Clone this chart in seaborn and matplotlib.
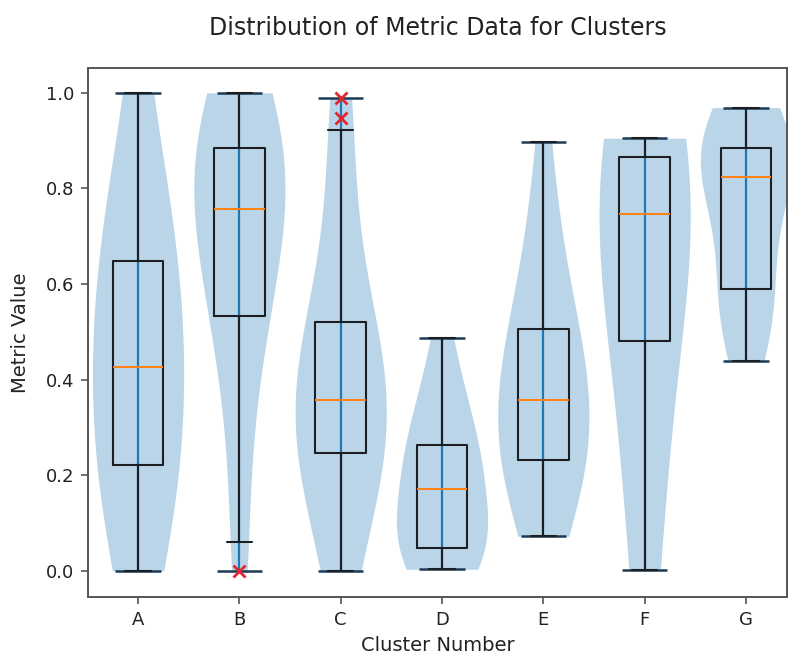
import numpy as np
import pandas as pd
import matplotlib
matplotlib.use("Agg")
import matplotlib.pyplot as plt
import seaborn as sns

# Cluster labels and per-cluster metric samples
clusters = ["A", "B", "C", "D", "E", "F", "G"]

cluster_a = [0.000, 0.037, 0.074, 0.110, 0.147, 0.184, 0.221, 0.255, 0.290,
             0.324, 0.358, 0.392, 0.427, 0.464, 0.501, 0.538, 0.575, 0.612,
             0.649, 0.680, 0.715, 0.755, 0.800, 0.880, 1.000]
cluster_b = [0.000, 0.060, 0.220, 0.380, 0.460, 0.500, 0.532, 0.580, 0.620,
             0.660, 0.700, 0.730, 0.757, 0.780, 0.800, 0.820, 0.840, 0.860,
             0.885, 0.900, 0.920, 0.940, 0.960, 0.980, 1.000]
cluster_c = [0.000, 0.040, 0.090, 0.140, 0.180, 0.220, 0.247, 0.270, 0.290,
             0.310, 0.325, 0.340, 0.358, 0.380, 0.400, 0.430, 0.460, 0.490,
             0.520, 0.570, 0.640, 0.750, 0.922, 0.948, 0.990]
cluster_d = [0.003, 0.010, 0.018, 0.026, 0.033, 0.040, 0.047, 0.060, 0.075,
             0.090, 0.110, 0.140, 0.170, 0.190, 0.210, 0.225, 0.240, 0.250,
             0.264, 0.290, 0.320, 0.350, 0.390, 0.440, 0.487]
cluster_e = [0.072, 0.100, 0.130, 0.160, 0.185, 0.210, 0.231, 0.250, 0.270,
             0.290, 0.310, 0.335, 0.358, 0.380, 0.400, 0.420, 0.450, 0.480,
             0.506, 0.540, 0.580, 0.630, 0.700, 0.790, 0.898]
cluster_f = [0.002, 0.020, 0.060, 0.140, 0.240, 0.360, 0.480, 0.530, 0.580,
             0.630, 0.670, 0.710, 0.746, 0.770, 0.790, 0.810, 0.830, 0.845,
             0.866, 0.872, 0.878, 0.884, 0.890, 0.897, 0.905]
cluster_g = [0.438, 0.470, 0.500, 0.530, 0.550, 0.570, 0.590, 0.630, 0.670,
             0.710, 0.760, 0.800, 0.824, 0.835, 0.845, 0.855, 0.865, 0.875,
             0.884, 0.895, 0.910, 0.925, 0.940, 0.955, 0.969]

y_ticks = [0.0, 0.2, 0.4, 0.6, 0.8, 1.0]

samples = [cluster_a, cluster_b, cluster_c, cluster_d, cluster_e, cluster_f, cluster_g]
df = pd.DataFrame({
    "Cluster": np.repeat(clusters, [len(s) for s in samples]),
    "Value": np.concatenate(samples),
})

# KDE smoothing per violin
smoothing = {"A": 1.6, "B": 1.3, "C": 1.3, "D": 1.3, "E": 1.4, "F": 1.9, "G": 1.3}

sns.set_style("ticks")
plt.rcParams["font.family"] = ["DejaVu Sans"]

fig = plt.figure(figsize=(7.9, 6.58), dpi=100)
ax = fig.add_axes([0.1114, 0.0927, 0.8848, 0.804])

blue = "#1f77b4"
ink = "#1b1f24"

# Violin bodies (range clipped to the data, each scaled to the same max width)
for name in clusters:
    sns.violinplot(data=df[df["Cluster"] == name], x="Cluster", y="Value",
                   order=clusters, cut=0, inner=None, density_norm="width",
                   width=0.9, color=blue, saturation=1, linewidth=0,
                   alpha=0.3, bw_adjust=smoothing[name], ax=ax)

# Violin centre bars and extrema
pos = np.arange(len(clusters))
mins = np.array([min(s) for s in samples])
maxs = np.array([max(s) for s in samples])
ax.vlines(pos, mins, maxs, color=blue, lw=1.6, zorder=3)
ax.hlines(mins, pos - 0.225, pos + 0.225, color="#1d3b57", lw=1.8, zorder=3)
ax.hlines(maxs, pos - 0.225, pos + 0.225, color="#1d3b57", lw=1.8, zorder=3)

# Box plots on top
sns.boxplot(data=df, x="Cluster", y="Value", order=clusters, width=0.5,
            fill=False, color=ink, linewidth=1.5, whis=1.5,
            medianprops=dict(color="#ff7f0e", linewidth=1.4),
            flierprops=dict(marker="x", markeredgecolor="#e0262e",
                            markerfacecolor="#e0262e", markersize=8,
                            markeredgewidth=2),
            ax=ax, zorder=4)

ax.set_xlim(-0.494, 6.405)
ax.set_ylim(-0.055, 1.052)
ax.set_yticks(y_ticks)
ax.set_yticklabels([f"{t:.1f}" for t in y_ticks])

ax.set_title("Distribution of Metric Data for Clusters", fontsize=17,
             color="#222222", pad=24)
ax.set_xlabel("Cluster Number", fontsize=14, color="#222222", labelpad=5)
ax.set_ylabel("Metric Value", fontsize=14, color="#222222", labelpad=11)
ax.tick_params(axis="both", labelsize=13, colors="#555555",
               labelcolor="#222222", length=5, width=1.2, pad=5)

for s in ax.spines.values():
    s.set_visible(True)
    s.set_color("#555555")
    s.set_linewidth(1.4)

fig.savefig("out.png", dpi=100)
